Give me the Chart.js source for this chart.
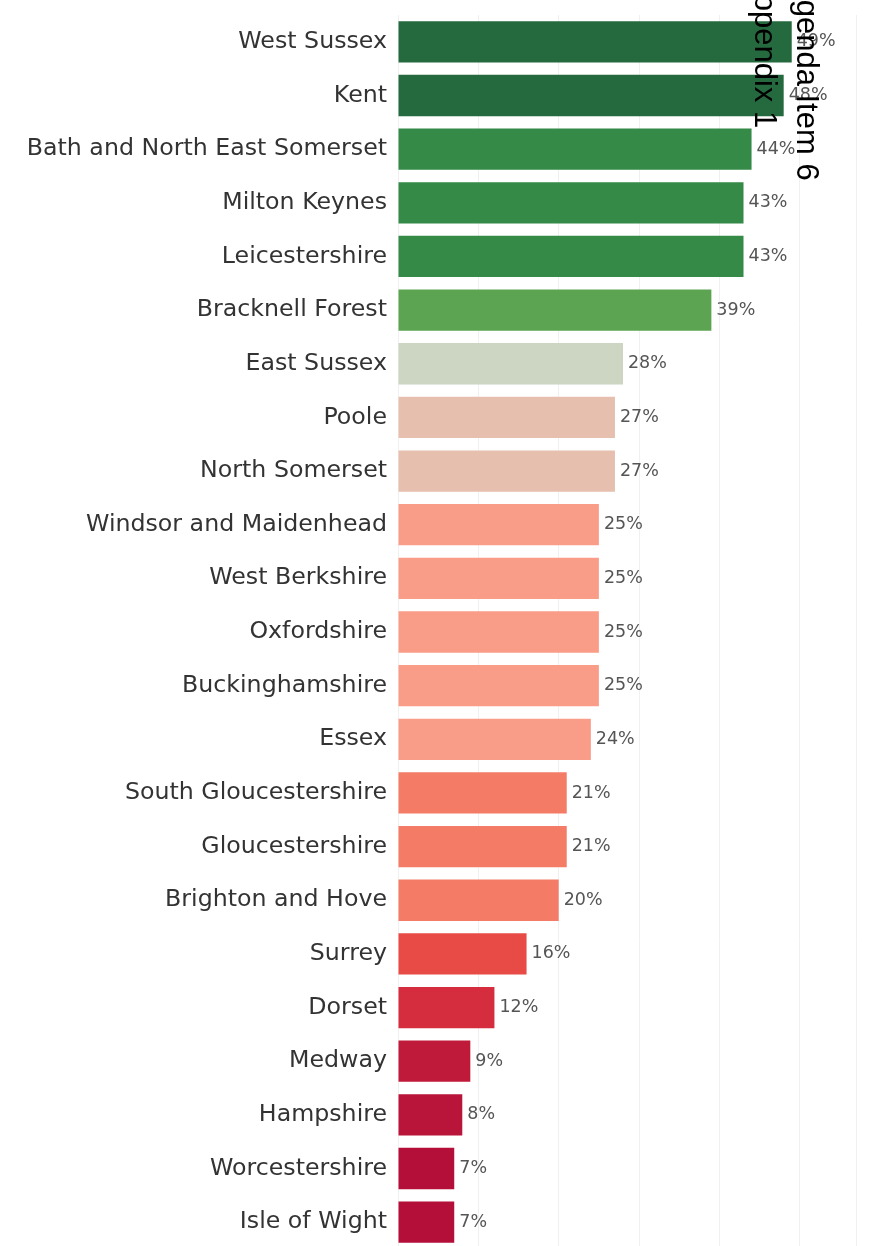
<!DOCTYPE html>
<html>
<head>
<meta charset="utf-8">
<script src="https://cdn.jsdelivr.net/npm/chart.js@4.4.1/dist/chart.umd.min.js"></script>
<style>
    html, body { margin: 0; padding: 0; background: #fff; overflow: hidden; }
    #wrap { position: relative; width: 875px; height: 1249px; }
</style>
</head>
<body>
<div id="wrap"><canvas id="areaChart"></canvas></div>
<script>
// Share by local authority (%)
const areas = [
    'West Sussex', 'Kent', 'Bath and North East Somerset', 'Milton Keynes',
    'Leicestershire', 'Bracknell Forest', 'East Sussex', 'Poole',
    'North Somerset', 'Windsor and Maidenhead', 'West Berkshire', 'Oxfordshire',
    'Buckinghamshire', 'Essex', 'South Gloucestershire', 'Gloucestershire',
    'Brighton and Hove', 'Surrey', 'Dorset', 'Medway', 'Hampshire',
    'Worcestershire', 'Isle of Wight'
];
const values = [49, 48, 44, 43, 43, 39, 28, 27, 27, 25, 25, 25, 25, 24, 21, 21, 20, 16, 12, 9, 8, 7, 7];

const barColors = [
    '#256a3e', '#256a3e', '#358a48', '#358a48', '#358a48', '#5ca352',
    '#ccd6c2', '#e6bfae', '#e6bfae', '#f99d89', '#f99d89', '#f99d89',
    '#f99d89', '#f99d89', '#f47c67', '#f47c67', '#f47c67', '#e84b45',
    '#d52d3d', '#c01a3b', '#b9143a', '#b30f39', '#b30f39'
];

const stampLines = ['Agenda Item 6', 'Appendix 1'];

// value labels at the end of each bar
const valueLabels = {
    id: 'valueLabels',
    afterDatasetsDraw(chart) {
        const ctx = chart.ctx;
        const meta = chart.getDatasetMeta(0);
        ctx.save();
        ctx.font = '17.5px "DejaVu Sans", sans-serif';
        ctx.fillStyle = '#555555';
        ctx.textAlign = 'left';
        ctx.textBaseline = 'middle';
        meta.data.forEach((bar, i) => {
            ctx.fillText(values[i] + '%', bar.x + 5, bar.y);
        });
        ctx.restore();
    }
};

// rotated page stamp in the top right corner
const pageStamp = {
    id: 'pageStamp',
    afterDraw(chart) {
        const ctx = chart.ctx;
        ctx.save();
        ctx.font = '31px "Liberation Sans", Arial, sans-serif';
        ctx.fillStyle = '#000000';
        ctx.textAlign = 'left';
        ctx.textBaseline = 'alphabetic';
        ctx.translate(797, 0);
        ctx.rotate(Math.PI / 2);
        ctx.fillText(stampLines[0], -21, 0);
        ctx.fillText(stampLines[1], -27, 42);
        ctx.restore();
    }
};

const ctx = document.getElementById('areaChart').getContext('2d');
new Chart(ctx, {
    type: 'bar',
    data: {
        labels: areas,
        datasets: [{
            data: values,
            backgroundColor: barColors,
            borderWidth: 0,
            categoryPercentage: 1,
            barPercentage: 0.77
        }]
    },
    options: {
        indexAxis: 'y',
        responsive: true,
        maintainAspectRatio: false,
        animation: false,
        layout: {
            padding: { top: 15, right: 19, bottom: 0, left: 0 }
        },
        scales: {
            x: {
                min: 0,
                max: 57,
                afterFit: scale => { scale.height = 0; },
                ticks: { display: false, stepSize: 10 },
                grid: { color: '#f0f0f0', drawTicks: false },
                border: { display: false }
            },
            y: {
                afterFit: scale => {
                    scale.width = 398;
                    scale.paddingTop = 0;
                    scale.paddingBottom = 0;
                },
                ticks: {
                    color: '#333333',
                    padding: 11,
                    font: { family: '"DejaVu Sans", sans-serif', size: 23.7 }
                },
                grid: { display: false, drawTicks: false },
                border: { display: false }
            }
        },
        plugins: {
            legend: { display: false },
            tooltip: { enabled: false }
        }
    },
    plugins: [valueLabels, pageStamp]
});
</script>
</body>
</html>
